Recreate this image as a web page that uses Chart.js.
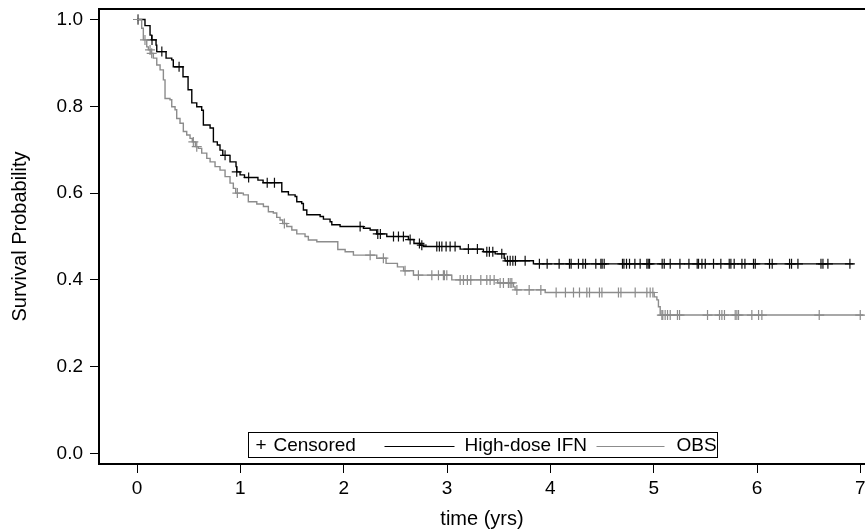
<!DOCTYPE html>
<html>
<head>
<meta charset="utf-8">
<script src="https://cdn.jsdelivr.net/npm/chart.js@4.4.1/dist/chart.umd.min.js"></script>
<style>
  html, body { margin: 0; padding: 0; background: #fff; }
  #wrap { width: 865px; height: 531px; }
</style>
</head>
<body>
<div id="wrap"><canvas id="km" width="865" height="531"></canvas></div>
<script>
const xTicks = [0, 1, 2, 3, 4, 5, 6, 7];
const yTicks = [0, 0.2, 0.4, 0.6, 0.8, 1.0];

// High-dose IFN: event times (yrs) and survival after each step
const ifnTimes = [0, 0.077, 0.126, 0.142, 0.184, 0.191, 0.281, 0.336, 0.351, 0.445, 0.494, 0.530, 0.578, 0.626,
  0.642, 0.707, 0.739, 0.777, 0.803, 0.830, 0.900, 0.958, 0.965, 0.997, 1.040, 1.170, 1.220, 1.401, 1.465,
  1.530, 1.546, 1.594, 1.610, 1.643, 1.772, 1.804, 1.868, 1.885, 1.965, 2.191, 2.256, 2.320, 2.417, 2.626,
  2.680, 2.740, 2.770, 3.127, 3.352, 3.466, 3.553, 3.562, 3.836, 6.934];
const ifnSurv = [1.0, 0.986, 0.964, 0.953, 0.941, 0.926, 0.911, 0.907, 0.891, 0.868, 0.838, 0.808, 0.799, 0.791,
  0.757, 0.750, 0.718, 0.711, 0.699, 0.687, 0.672, 0.661, 0.649, 0.642, 0.636, 0.630, 0.624, 0.603, 0.596,
  0.592, 0.580, 0.576, 0.561, 0.550, 0.546, 0.540, 0.534, 0.527, 0.523, 0.519, 0.515, 0.506, 0.500, 0.493,
  0.484, 0.480, 0.477, 0.471, 0.465, 0.460, 0.450, 0.444, 0.437, 0.437];
const ifnCensored = [0.01, 0.145, 0.24, 0.407, 0.852, 0.965, 1.08, 1.26, 1.33, 2.159, 2.33, 2.355, 2.482, 2.53,
  2.578, 2.643, 2.733, 2.756, 2.901, 2.926, 2.95, 2.991, 3.03, 3.078, 3.207, 3.294, 3.385, 3.41, 3.443, 3.53,
  3.585, 3.611, 3.637, 3.662, 3.756, 3.894, 3.969, 4.085, 4.185, 4.201, 4.272, 4.315, 4.34, 4.44, 4.489, 4.501,
  4.521, 4.698, 4.712, 4.737, 4.766, 4.818, 4.869, 4.934, 4.947, 4.96, 5.082, 5.102, 5.16, 5.254, 5.341, 5.421,
  5.434, 5.467, 5.499, 5.579, 5.65, 5.731, 5.747, 5.779, 5.854, 5.883, 5.966, 5.983, 6.121, 6.147, 6.315,
  6.334, 6.396, 6.619, 6.638, 6.686, 6.899];

// OBS: event times (yrs) and survival after each step
const obsTimes = [0, 0.045, 0.061, 0.094, 0.110, 0.135, 0.158, 0.191, 0.223, 0.255, 0.271, 0.319, 0.336, 0.368,
  0.384, 0.416, 0.448, 0.481, 0.513, 0.535, 0.565, 0.593, 0.626, 0.675, 0.707, 0.755, 0.803, 0.852, 0.900,
  0.932, 0.955, 1.029, 1.077, 1.159, 1.223, 1.271, 1.319, 1.352, 1.384, 1.410, 1.449, 1.498, 1.546, 1.626,
  1.658, 1.740, 1.943, 2.014, 2.094, 2.320, 2.410, 2.520, 2.580, 2.675, 3.046, 3.490, 3.643, 3.659, 3.950,
  5.005, 5.031, 5.046, 5.063, 7.031];
const obsSurv = [1.0, 0.980, 0.953, 0.937, 0.930, 0.922, 0.911, 0.895, 0.884, 0.861, 0.818, 0.815, 0.799, 0.792,
  0.772, 0.761, 0.742, 0.734, 0.726, 0.718, 0.707, 0.703, 0.692, 0.680, 0.672, 0.661, 0.653, 0.638, 0.623,
  0.611, 0.600, 0.596, 0.580, 0.575, 0.569, 0.557, 0.554, 0.544, 0.538, 0.530, 0.523, 0.515, 0.506, 0.500,
  0.492, 0.488, 0.470, 0.465, 0.457, 0.450, 0.438, 0.430, 0.421, 0.411, 0.400, 0.393, 0.384, 0.377, 0.371,
  0.361, 0.354, 0.338, 0.319, 0.319];
const obsCensored = [0.01, 0.077, 0.126, 0.142, 0.545, 0.578, 0.971, 1.426, 2.256, 2.384, 2.594, 2.723, 2.853,
  2.917, 2.965, 2.975, 2.998, 3.127, 3.159, 3.197, 3.23, 3.327, 3.385, 3.417, 3.456, 3.514, 3.546, 3.594,
  3.611, 3.627, 3.676, 3.795, 3.908, 4.056, 4.146, 4.224, 4.282, 4.353, 4.379, 4.475, 4.499, 4.659, 4.683,
  4.821, 4.934, 4.966, 4.992, 5.079, 5.088, 5.111, 5.134, 5.16, 5.23, 5.25, 5.521, 5.637, 5.66, 5.685, 5.789,
  5.805, 5.821, 5.95, 6.015, 6.047, 6.602, 6.999];

const seriesNames = ['High-dose IFN', 'OBS'];
const seriesColors = ['#000000', '#8c8c8c'];

// survival level of a step curve at time t
function survAt(times, surv, t) {
    let s = surv[0];
    for (let i = 0; i < times.length; i++) {
        if (times[i] <= t) s = surv[i];
    }
    return s;
}

const stepPoints = (times, surv) => times.map((t, i) => ({ x: t, y: surv[i] }));
const censorPoints = (cens, times, surv) => cens.map(t => ({ x: t, y: survAt(times, surv, t) }));

const FONT = "'Liberation Sans', Arial, sans-serif";

// legend box inside the plot, plus the top frame line
const kmDecor = {
    id: 'kmDecor',
    afterDraw(chart) {
        const ctx = chart.ctx;
        const area = chart.chartArea;
        ctx.save();
        ctx.strokeStyle = '#000';
        ctx.lineWidth = 2;
        ctx.beginPath();
        ctx.moveTo(area.left, area.top);
        ctx.lineTo(area.right, area.top);
        ctx.stroke();

        // legend layout (offsets from the box's left edge)
        const boxW = 469, boxH = 25;
        const bx = Math.round((area.left + area.right) / 2 - boxW / 2) + 0.5;
        const by = area.bottom - 7 - boxH + 0.5;
        const cy = by + boxH / 2 + 1;
        const ly = Math.round(cy) + 0.5;

        ctx.fillStyle = '#fff';
        ctx.fillRect(bx, by, boxW, boxH);
        ctx.lineWidth = 1;
        ctx.strokeStyle = '#000';
        ctx.strokeRect(bx, by, boxW, boxH);

        ctx.font = '19px ' + FONT;
        ctx.textBaseline = 'middle';
        ctx.fillStyle = '#000';
        ctx.fillText('+', bx + 7, cy);
        ctx.fillText('Censored', bx + 25, cy);

        ctx.strokeStyle = seriesColors[0];
        ctx.beginPath(); ctx.moveTo(bx + 136, ly); ctx.lineTo(bx + 206, ly); ctx.stroke();
        ctx.fillText(seriesNames[0], bx + 216, cy);

        ctx.strokeStyle = seriesColors[1];
        ctx.beginPath(); ctx.moveTo(bx + 348, ly); ctx.lineTo(bx + 416, ly); ctx.stroke();
        ctx.fillText(seriesNames[1], bx + 428, cy);
        ctx.restore();
    }
};

new Chart(document.getElementById('km').getContext('2d'), {
    type: 'line',
    data: {
        datasets: [
            {
                label: seriesNames[1],
                data: stepPoints(obsTimes, obsSurv),
                borderColor: seriesColors[1],
                borderWidth: 1.4,
                pointRadius: 0,
                stepped: true,
                fill: false
            },
            {
                label: seriesNames[0],
                data: stepPoints(ifnTimes, ifnSurv),
                borderColor: seriesColors[0],
                borderWidth: 1.4,
                pointRadius: 0,
                stepped: true,
                fill: false
            },
            {
                label: 'OBS censored',
                data: censorPoints(obsCensored, obsTimes, obsSurv),
                showLine: false,
                pointStyle: 'cross',
                pointRadius: 5,
                pointBorderWidth: 1.2,
                borderColor: seriesColors[1]
            },
            {
                label: 'IFN censored',
                data: censorPoints(ifnCensored, ifnTimes, ifnSurv),
                showLine: false,
                pointStyle: 'cross',
                pointRadius: 5,
                pointBorderWidth: 1.2,
                borderColor: '#111'
            }
        ]
    },
    options: {
        responsive: false,
        animation: false,
        layout: { autoPadding: false, padding: { top: 9, right: 0, left: 0, bottom: 0 } },
        plugins: {
            legend: { display: false },
            tooltip: { enabled: false }
        },
        scales: {
            x: {
                type: 'linear',
                min: -0.368,
                max: 7.045,
                afterBuildTicks: (scale) => { scale.ticks = xTicks.map(v => ({ value: v })); },
                afterFit: (scale) => { scale.height = 67; scale.paddingLeft = 0; scale.paddingRight = 0; },
                ticks: {
                    color: '#000',
                    font: { family: FONT, size: 19 },
                    padding: 4,
                    maxRotation: 0,
                    callback: (v) => String(v)
                },
                grid: { display: true, drawOnChartArea: false, drawTicks: true, tickLength: 9, color: '#000', lineWidth: 1 },
                border: { display: true, color: '#000', width: 2 },
                title: {
                    display: true,
                    text: 'time (yrs)',
                    color: '#000',
                    font: { family: FONT, size: 20 },
                    padding: { top: 0, bottom: 0 }
                }
            },
            y: {
                type: 'linear',
                min: -0.0242,
                max: 1.0242,
                afterBuildTicks: (scale) => { scale.ticks = yTicks.map(v => ({ value: v })); },
                afterFit: (scale) => { scale.width = 99; scale.paddingTop = 0; scale.paddingBottom = 0; },
                ticks: {
                    color: '#000',
                    font: { family: FONT, size: 19 },
                    padding: 7,
                    callback: (v) => v.toFixed(1)
                },
                grid: { display: true, drawOnChartArea: false, drawTicks: true, tickLength: 9, color: '#000', lineWidth: 1 },
                border: { display: true, color: '#000', width: 2 },
                title: {
                    display: true,
                    text: 'Survival Probability',
                    color: '#000',
                    font: { family: FONT, size: 20 },
                    padding: { top: 8, bottom: 0 }
                }
            }
        }
    },
    plugins: [kmDecor]
});
</script>
</body>
</html>
